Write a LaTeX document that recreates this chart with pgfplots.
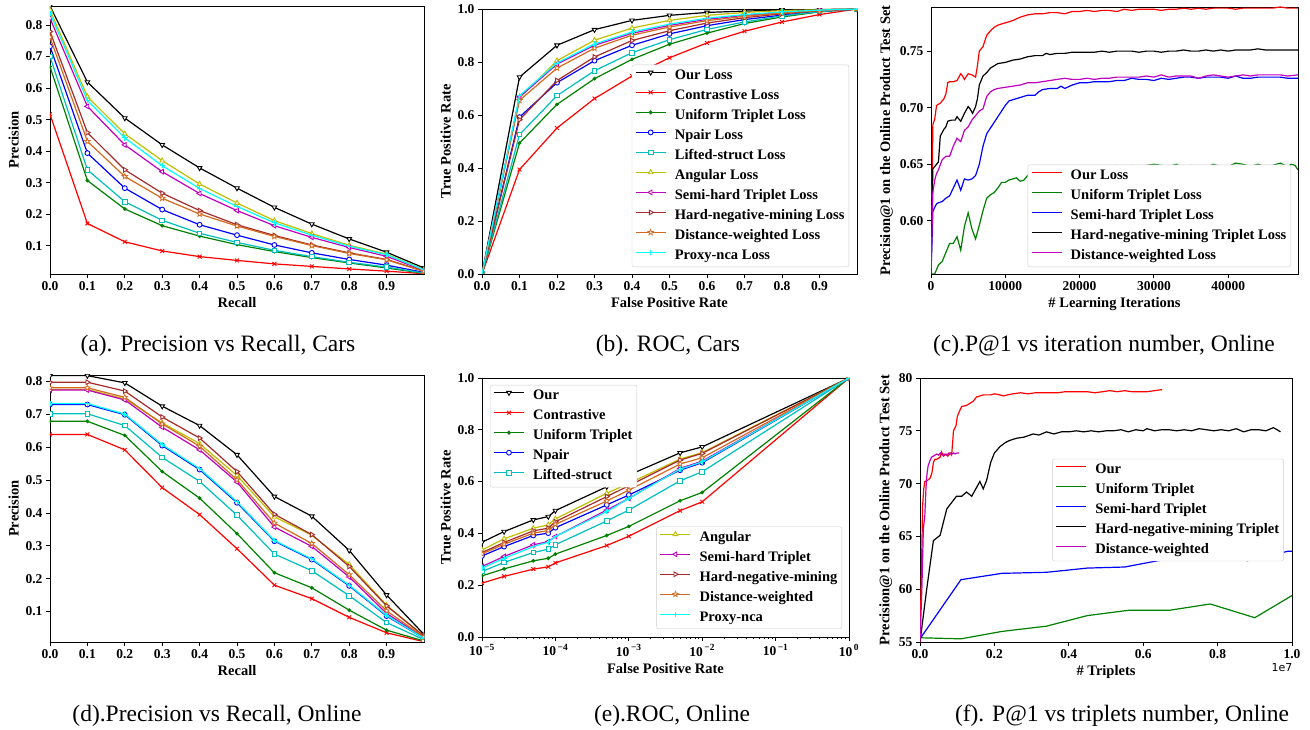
\documentclass[border=0pt]{standalone}
\usepackage{pgfplots}
\pgfplotsset{compat=1.18}
\usepackage{pgfplotstable}
\usepackage{fontspec}
\setmainfont{Liberation Serif}
\newfontfamily\dvs{DejaVu Sans}
\newcommand\fTick{\fontsize{13.5}{15}\selectfont\bfseries}
\newcommand\fLab{\fontsize{14.5}{16}\selectfont\bfseries}
\newcommand\fLeg{\fontsize{14.5}{16}\selectfont\bfseries}
\newcommand\fCap{\fontsize{23.5}{27}\selectfont}

\definecolor{cGreen}{HTML}{008000}
\definecolor{cC}{HTML}{00BFBF}
\definecolor{cY}{HTML}{BFBF00}
\definecolor{cM}{HTML}{BF00BF}
\definecolor{cBrown}{HTML}{A52A2A}
\definecolor{cChoc}{HTML}{D2691E}
\definecolor{cCyan}{HTML}{00FFFF}

% matplotlib-like filled star
\pgfdeclareplotmark{fivestar}{%
  \pgfpathmoveto{\pgfpointpolar{90}{1.2\pgfplotmarksize}}%
  \pgfpathlineto{\pgfpointpolar{126}{0.5\pgfplotmarksize}}%
  \pgfpathlineto{\pgfpointpolar{162}{1.2\pgfplotmarksize}}%
  \pgfpathlineto{\pgfpointpolar{198}{0.5\pgfplotmarksize}}%
  \pgfpathlineto{\pgfpointpolar{234}{1.2\pgfplotmarksize}}%
  \pgfpathlineto{\pgfpointpolar{270}{0.5\pgfplotmarksize}}%
  \pgfpathlineto{\pgfpointpolar{306}{1.2\pgfplotmarksize}}%
  \pgfpathlineto{\pgfpointpolar{342}{0.5\pgfplotmarksize}}%
  \pgfpathlineto{\pgfpointpolar{18}{1.2\pgfplotmarksize}}%
  \pgfpathlineto{\pgfpointpolar{54}{0.5\pgfplotmarksize}}%
  \pgfpathclose\pgfusepathqfillstroke}

\pgfplotsset{
  mpl/.style={
    scale only axis, clip marker paths=true,
    tick align=outside, tick pos=left,
    major tick length=4pt, minor tick length=2.2pt,
    every tick/.style={black, line width=0.8pt},
    axis line style={line width=0.9pt},
    tick label style={font=\fTick},
    label style={font=\fLab},
    /pgf/number format/assume math mode=true,
    legend cell align=left,
    legend style={font=\fLeg, draw=black!20, rounded corners=2pt, fill=white,
      inner sep=3pt, row sep=4pt,
      nodes={inner sep=1.5pt, text height=10pt, text depth=3pt},
      /tikz/every odd column/.append style={column sep=7pt}},
    legend image code/.code={\draw[sharp corners,line width=1.4pt,mark size=2.7pt,
      mark repeat=2,mark phase=2,##1]
      plot coordinates {(0pt,3.5pt) (15pt,3.5pt) (30pt,3.5pt)};},
    every axis plot/.append style={line width=1.2pt, mark size=2.7pt},
  },
  onedec/.style={/pgf/number format/fixed, /pgf/number format/fixed zerofill,
    /pgf/number format/precision=1},
  sOur/.style={black, mark=triangle*, mark options={solid, line width=0.9pt, rotate=180, fill=white}},
  sCon/.style={red, mark=x, mark options={solid, line width=0.9pt}},
  sUni/.style={cGreen, mark=*, mark options={solid, scale=0.45}},
  sNpa/.style={blue, mark=*, mark options={solid, line width=0.9pt, fill=white, scale=0.9}},
  sLif/.style={cC, mark=square*, mark options={solid, line width=0.9pt, fill=white, scale=0.85}},
  sAng/.style={cY, mark=triangle*, mark options={solid, line width=0.9pt, fill=white}},
  sSem/.style={cM, mark=triangle*, mark options={solid, line width=0.9pt, rotate=90, fill=white}},
  sHar/.style={cBrown, mark=triangle*, mark options={solid, line width=0.9pt, rotate=-90, fill=white}},
  sDis/.style={cChoc, mark=fivestar, mark options={solid, line width=0.7pt, fill=white, scale=0.9}},
  sPro/.style={cCyan, mark=+, mark options={solid, line width=0.9pt}},
}

% Precision vs Recall, Cars
\pgfplotstableread{
x   our   con   uni   npa   lif   ang   sem   har   dis   pro
0.0 0.860 0.517 0.668 0.732 0.700 0.847 0.821 0.779 0.761 0.837
0.1 0.619 0.171 0.307 0.394 0.341 0.573 0.542 0.459 0.431 0.561
0.2 0.505 0.113 0.217 0.283 0.240 0.455 0.420 0.341 0.320 0.442
0.3 0.420 0.084 0.164 0.215 0.181 0.370 0.335 0.267 0.251 0.354
0.4 0.347 0.066 0.131 0.167 0.140 0.296 0.266 0.212 0.201 0.282
0.5 0.283 0.054 0.104 0.134 0.111 0.236 0.212 0.167 0.163 0.225
0.6 0.222 0.043 0.082 0.103 0.086 0.180 0.164 0.133 0.130 0.173
0.7 0.169 0.035 0.063 0.078 0.066 0.139 0.127 0.103 0.101 0.134
0.8 0.122 0.027 0.046 0.057 0.048 0.102 0.095 0.078 0.076 0.099
0.9 0.080 0.020 0.030 0.039 0.033 0.074 0.067 0.057 0.056 0.072
1.0 0.030 0.012 0.013 0.016 0.014 0.025 0.022 0.020 0.019 0.024
}\tabA

% ROC, Cars
\pgfplotstableread{
x   our   con   uni   npa   lif   ang   sem   har   dis   pro
0.0 0     0     0     0     0     0     0     0     0     0
0.1 0.743 0.394 0.494 0.592 0.526 0.664 0.668 0.582 0.655 0.673
0.2 0.863 0.551 0.640 0.722 0.673 0.805 0.792 0.730 0.777 0.796
0.3 0.922 0.662 0.737 0.805 0.767 0.882 0.863 0.819 0.852 0.868
0.4 0.957 0.747 0.810 0.863 0.835 0.928 0.908 0.881 0.901 0.913
0.5 0.976 0.816 0.867 0.906 0.884 0.957 0.938 0.918 0.932 0.943
0.6 0.987 0.872 0.909 0.937 0.923 0.976 0.961 0.947 0.956 0.965
0.7 0.992 0.916 0.945 0.960 0.951 0.987 0.976 0.967 0.972 0.979
0.8 0.996 0.951 0.970 0.977 0.974 0.994 0.987 0.982 0.985 0.989
0.9 0.998 0.979 0.989 0.991 0.990 0.997 0.995 0.993 0.994 0.996
1.0 1     1     1     1     1     1     1     1     1     1
}\tabB

% Precision vs Recall, Online
\pgfplotstableread{
x   our   con   uni   npa   lif   ang   sem   har   dis   pro
0.0 0.818 0.639 0.679 0.730 0.702 0.776 0.774 0.798 0.781 0.733
0.1 0.818 0.639 0.679 0.730 0.702 0.776 0.774 0.798 0.781 0.733
0.2 0.796 0.592 0.636 0.699 0.666 0.747 0.744 0.771 0.752 0.701
0.3 0.725 0.477 0.526 0.605 0.569 0.674 0.661 0.692 0.671 0.608
0.4 0.666 0.395 0.445 0.532 0.496 0.611 0.592 0.628 0.603 0.535
0.5 0.577 0.291 0.337 0.431 0.393 0.514 0.494 0.526 0.501 0.434
0.6 0.450 0.180 0.218 0.314 0.275 0.388 0.357 0.396 0.369 0.316
0.7 0.390 0.139 0.172 0.258 0.224 0.332 0.298 0.334 0.307 0.260
0.8 0.286 0.082 0.104 0.178 0.148 0.243 0.205 0.237 0.212 0.180
0.9 0.150 0.035 0.043 0.086 0.066 0.119 0.094 0.117 0.102 0.088
1.0 0.030 0.008 0.010 0.018 0.014 0.024 0.020 0.025 0.022 0.018
}\tabD

% ROC, Online (log FPR)
\pgfplotstableread{
x    our   con   uni   npa   lif   ang   sem   har   dis   pro
1e-5 0.366 0.208 0.236 0.313 0.253 0.336 0.272 0.326 0.321 0.266
2e-5 0.407 0.234 0.263 0.349 0.288 0.379 0.311 0.365 0.358 0.304
5e-5 0.452 0.262 0.294 0.392 0.326 0.420 0.356 0.410 0.401 0.349
8e-5 0.465 0.271 0.304 0.401 0.339 0.433 0.368 0.420 0.411 0.366
1e-4 0.488 0.286 0.320 0.422 0.356 0.456 0.388 0.445 0.435 0.388
5e-4 0.580 0.353 0.392 0.510 0.448 0.555 0.490 0.542 0.525 0.484
1e-3 0.625 0.389 0.427 0.548 0.490 0.593 0.535 0.584 0.567 0.535
5e-3 0.711 0.488 0.526 0.644 0.603 0.687 0.651 0.683 0.668 0.648
1e-2 0.734 0.522 0.558 0.673 0.638 0.712 0.679 0.709 0.692 0.676
1    1     1     1     1     1     1     1     1     1     1
}\tabE

\begin{document}
\begin{tikzpicture}
\path[use as bounding box] (0pt,0pt) rectangle (1310pt,730pt);

% ---------- (a)
\begin{axis}[mpl, at={(50pt,456pt)}, anchor=south west, width=374pt, height=268pt,
  xmin=0, xmax=1, ymin=0.011, ymax=0.86, onedec,
  xtick={0,0.1,0.2,0.3,0.4,0.5,0.6,0.7,0.8,0.9},
  ytick={0.1,0.2,0.3,0.4,0.5,0.6,0.7,0.8},
  xlabel={Recall}, ylabel={Precision}]
\addplot[sOur] table[x=x,y=our]{\tabA};
\addplot[sCon] table[x=x,y=con]{\tabA};
\addplot[sUni] table[x=x,y=uni]{\tabA};
\addplot[sNpa] table[x=x,y=npa]{\tabA};
\addplot[sLif] table[x=x,y=lif]{\tabA};
\addplot[sAng] table[x=x,y=ang]{\tabA};
\addplot[sSem] table[x=x,y=sem]{\tabA};
\addplot[sHar] table[x=x,y=har]{\tabA};
\addplot[sDis] table[x=x,y=dis]{\tabA};
\addplot[sPro] table[x=x,y=pro]{\tabA};
\end{axis}

% ---------- (b)
\begin{axis}[mpl, at={(482pt,456pt)}, anchor=south west, width=375pt, height=265pt,
  xmin=0, xmax=1, ymin=0, ymax=1, onedec,
  xtick={0,0.1,0.2,0.3,0.4,0.5,0.6,0.7,0.8,0.9},
  ytick={0,0.2,0.4,0.6,0.8,1.0},
  xlabel={False Positive Rate}, ylabel={True Positive Rate},
  legend style={at={(0.979,0.026)}, anchor=south east}]
\addplot[sOur] table[x=x,y=our]{\tabB}; \addlegendentry{Our Loss}
\addplot[sCon] table[x=x,y=con]{\tabB}; \addlegendentry{Contrastive Loss}
\addplot[sUni] table[x=x,y=uni]{\tabB}; \addlegendentry{Uniform Triplet Loss}
\addplot[sNpa] table[x=x,y=npa]{\tabB}; \addlegendentry{Npair Loss}
\addplot[sLif] table[x=x,y=lif]{\tabB}; \addlegendentry{Lifted-struct Loss}
\addplot[sAng] table[x=x,y=ang]{\tabB}; \addlegendentry{Angular Loss}
\addplot[sSem] table[x=x,y=sem]{\tabB}; \addlegendentry{Semi-hard Triplet Loss}
\addplot[sHar] table[x=x,y=har]{\tabB}; \addlegendentry{Hard-negative-mining Loss}
\addplot[sDis] table[x=x,y=dis]{\tabB}; \addlegendentry{Distance-weighted Loss}
\addplot[sPro] table[x=x,y=pro]{\tabB}; \addlegendentry{Proxy-nca Loss}
\end{axis}

% ---------- (c)
\begin{axis}[mpl, at={(931pt,456pt)}, anchor=south west, width=367pt, height=267pt,
  xmin=0, xmax=49400, ymin=0.553, ymax=0.789,
  scaled x ticks=false, /pgf/number format/1000 sep={},
  xtick={0,10000,20000,30000,40000},
  ytick={0.60,0.65,0.70,0.75},
  yticklabel style={/pgf/number format/fixed, /pgf/number format/fixed zerofill, /pgf/number format/precision=2},
  xlabel={\# Learning Iterations}, ylabel={Precision@1 on the Online Product Test Set},
  legend style={at={(0.981,0.026)}, anchor=south east}]
\addplot[red] coordinates {(0,0.553) (250,0.685) (500,0.690) (750,0.702) (1000,0.703) (1250,0.704) (1500,0.706) (1750,0.708) (2000,0.712) (2250,0.722) (2500,0.723) (3000,0.723) (3500,0.724) (4000,0.730) (4250,0.728) (4500,0.725) (5000,0.730) (5500,0.729) (6000,0.727) (6250,0.737) (6500,0.750) (7000,0.754) (7500,0.764) (8000,0.768) (8500,0.771) (9000,0.773) (10000,0.775) (11000,0.777) (12000,0.780) (13000,0.782) (14000,0.783) (15000,0.783) (16000,0.784) (17000,0.784) (18000,0.783) (19000,0.785) (20000,0.785) (21000,0.786) (22000,0.785) (23000,0.786) (24000,0.786) (25000,0.785) (26000,0.787) (27000,0.786) (28000,0.787) (29000,0.787) (30000,0.787) (31000,0.786) (32000,0.787) (33000,0.787) (34000,0.788) (35000,0.787) (36000,0.788) (37000,0.787) (38000,0.788) (39000,0.788) (40000,0.788) (41000,0.787) (42000,0.788) (43000,0.788) (44000,0.788) (45000,0.788) (46000,0.788) (47000,0.789) (48000,0.788) (49000,0.788) (49400,0.788)};
\addlegendentry{Our Loss}
\addplot[cGreen] coordinates {(0,0.553) (500,0.553) (750,0.557) (1000,0.561) (1500,0.564) (2000,0.572) (2500,0.580) (3000,0.580) (3500,0.586) (4000,0.574) (4500,0.595) (5000,0.607) (5500,0.593) (6000,0.584) (6500,0.596) (7000,0.609) (7500,0.620) (8000,0.623) (8500,0.625) (9000,0.629) (9500,0.634) (10000,0.634) (10500,0.636) (11000,0.637) (11500,0.638) (12000,0.635) (12500,0.636) (13000,0.640) (13500,0.643) (14000,0.643) (15000,0.643) (16000,0.644) (17000,0.645) (18000,0.645) (19000,0.646) (20000,0.646) (21000,0.647) (22000,0.646) (23000,0.648) (24000,0.647) (25000,0.649) (26000,0.647) (27000,0.649) (28000,0.648) (29000,0.649) (30000,0.650) (31000,0.649) (32000,0.648) (33000,0.650) (34000,0.647) (35000,0.649) (36000,0.648) (37000,0.647) (38000,0.650) (39000,0.648) (40000,0.648) (41000,0.651) (42000,0.650) (43000,0.648) (44000,0.650) (45000,0.648) (46000,0.649) (47000,0.651) (48000,0.648) (48500,0.650) (49000,0.649) (49400,0.645)};
\addlegendentry{Uniform Triplet Loss}
\addplot[blue] coordinates {(0,0.553) (250,0.608) (500,0.612) (750,0.615) (1000,0.616) (1500,0.617) (2000,0.620) (2500,0.622) (3000,0.629) (3500,0.636) (4000,0.627) (4500,0.637) (5000,0.636) (5500,0.637) (6000,0.640) (6500,0.650) (7000,0.666) (7500,0.677) (8000,0.682) (8500,0.687) (9000,0.692) (9500,0.697) (10000,0.702) (10500,0.706) (11000,0.707) (12000,0.709) (13000,0.711) (14000,0.711) (14500,0.714) (15000,0.716) (16000,0.717) (17000,0.717) (17500,0.719) (18000,0.717) (19000,0.720) (20000,0.722) (21000,0.722) (22000,0.723) (23000,0.723) (24000,0.723) (25000,0.724) (26000,0.724) (27000,0.726) (28000,0.725) (29000,0.725) (30000,0.724) (31000,0.726) (32000,0.725) (33000,0.726) (34000,0.727) (35000,0.727) (36000,0.726) (37000,0.727) (38000,0.727) (39000,0.727) (40000,0.726) (41000,0.728) (42000,0.726) (43000,0.726) (44000,0.727) (45000,0.727) (46000,0.727) (47000,0.727) (48000,0.726) (49400,0.726)};
\addlegendentry{Semi-hard Triplet Loss}
\addplot[black] coordinates {(0,0.553) (250,0.646) (500,0.648) (750,0.650) (1000,0.652) (1250,0.675) (1500,0.678) (1750,0.681) (2000,0.683) (2250,0.688) (2750,0.689) (3250,0.689) (3500,0.692) (4000,0.688) (4500,0.695) (5000,0.701) (5250,0.699) (5600,0.695) (6000,0.701) (6250,0.708) (6500,0.720) (7000,0.728) (7500,0.731) (8000,0.735) (8500,0.737) (9000,0.739) (10000,0.740) (11000,0.742) (12000,0.743) (13000,0.745) (14000,0.746) (15000,0.746) (15500,0.748) (16000,0.747) (17000,0.748) (18000,0.748) (19000,0.749) (20000,0.749) (21000,0.749) (22000,0.749) (23000,0.750) (24000,0.749) (25000,0.750) (26000,0.750) (27000,0.750) (28000,0.749) (29000,0.750) (30000,0.750) (31000,0.749) (32000,0.750) (33000,0.750) (34000,0.751) (35000,0.750) (36000,0.750) (37000,0.751) (38000,0.750) (39000,0.751) (40000,0.750) (41000,0.751) (42000,0.751) (43000,0.751) (44000,0.752) (45000,0.751) (46000,0.751) (47000,0.751) (48000,0.751) (49400,0.751)};
\addlegendentry{Hard-negative-mining Triplet Loss}
\addplot[cM] coordinates {(0,0.553) (250,0.625) (500,0.636) (750,0.642) (1000,0.645) (1500,0.654) (2000,0.657) (2500,0.657) (3000,0.666) (3500,0.673) (4000,0.670) (4500,0.680) (5000,0.683) (5500,0.689) (6000,0.693) (6500,0.697) (7000,0.699) (7500,0.710) (8000,0.714) (8500,0.716) (9000,0.717) (10000,0.718) (11000,0.719) (12000,0.720) (13000,0.722) (14000,0.722) (15000,0.723) (16000,0.724) (17000,0.725) (18000,0.726) (19000,0.725) (20000,0.725) (21000,0.726) (22000,0.725) (23000,0.726) (24000,0.726) (25000,0.727) (26000,0.727) (27000,0.727) (28000,0.727) (29000,0.728) (30000,0.727) (31000,0.729) (32000,0.727) (33000,0.728) (34000,0.728) (35000,0.728) (36000,0.726) (37000,0.728) (38000,0.729) (39000,0.728) (40000,0.727) (41000,0.728) (42000,0.729) (43000,0.728) (44000,0.729) (45000,0.729) (46000,0.729) (47000,0.729) (48000,0.728) (49400,0.729)};
\addlegendentry{Distance-weighted Loss}
\end{axis}

% ---------- (d)
\begin{axis}[mpl, at={(50pt,88pt)}, anchor=south west, width=374pt, height=267pt,
  xmin=0, xmax=1, ymin=0.007, ymax=0.82, onedec,
  xtick={0,0.1,0.2,0.3,0.4,0.5,0.6,0.7,0.8,0.9},
  ytick={0.1,0.2,0.3,0.4,0.5,0.6,0.7,0.8},
  xlabel={Recall}, ylabel={Precision}]
\addplot[sOur] table[x=x,y=our]{\tabD};
\addplot[sCon] table[x=x,y=con]{\tabD};
\addplot[sUni] table[x=x,y=uni]{\tabD};
\addplot[sNpa] table[x=x,y=npa]{\tabD};
\addplot[sLif] table[x=x,y=lif]{\tabD};
\addplot[sAng] table[x=x,y=ang]{\tabD};
\addplot[sSem] table[x=x,y=sem]{\tabD};
\addplot[sHar] table[x=x,y=har]{\tabD};
\addplot[sDis] table[x=x,y=dis]{\tabD};
\addplot[sPro] table[x=x,y=pro]{\tabD};
\end{axis}

% ---------- (e)
\begin{axis}[mpl, at={(482pt,93pt)}, anchor=south west, width=367pt, height=259pt,
  xmode=log, xmin=1e-5, xmax=1, ymin=0, ymax=1,
  xtick={1e-5,1e-4,1e-3,1e-2,1e-1,1},
  xticklabels={10\textsuperscript{\,−5},10\textsuperscript{\,−4},10\textsuperscript{\,−3},10\textsuperscript{\,−2},10\textsuperscript{\,−1},10\textsuperscript{\,0}},
  ytick={0,0.2,0.4,0.6,0.8,1.0},
  yticklabel style={/pgf/number format/fixed, /pgf/number format/fixed zerofill, /pgf/number format/precision=1},
  xlabel={False Positive Rate}, ylabel={True Positive Rate},
  legend style={at={(0.022,0.973)}, anchor=north west}]
\addplot[sOur] table[x=x,y=our]{\tabE}; \addlegendentry{Our}
\addplot[sCon] table[x=x,y=con]{\tabE}; \addlegendentry{Contrastive}
\addplot[sUni] table[x=x,y=uni]{\tabE}; \addlegendentry{Uniform Triplet}
\addplot[sNpa] table[x=x,y=npa]{\tabE}; \addlegendentry{Npair}
\addplot[sLif] table[x=x,y=lif]{\tabE}; \addlegendentry{Lifted-struct}
\addplot[sAng, forget plot] table[x=x,y=ang]{\tabE};
\addplot[sSem, forget plot] table[x=x,y=sem]{\tabE};
\addplot[sHar, forget plot] table[x=x,y=har]{\tabE};
\addplot[sDis, forget plot] table[x=x,y=dis]{\tabE};
\addplot[sPro, forget plot] table[x=x,y=pro]{\tabE};
\end{axis}
\begin{axis}[mpl, hide axis, at={(482pt,93pt)}, anchor=south west, width=367pt, height=259pt,
  xmin=0, xmax=1, ymin=0, ymax=1,
  legend style={at={(0.981,0.031)}, anchor=south east}]
\addlegendimage{sAng} \addlegendentry{Angular}
\addlegendimage{sSem} \addlegendentry{Semi-hard Triplet}
\addlegendimage{sHar} \addlegendentry{Hard-negative-mining}
\addlegendimage{sDis} \addlegendentry{Distance-weighted}
\addlegendimage{sPro} \addlegendentry{Proxy-nca}
\end{axis}

% ---------- (f)
\begin{axis}[mpl, at={(920pt,88pt)}, anchor=south west, width=372pt, height=264pt,
  xmin=0, xmax=1, ymin=55, ymax=80,
  xtick={0,0.2,0.4,0.6,0.8,1.0}, ytick={55,60,65,70,75,80},
  xticklabel style={/pgf/number format/fixed, /pgf/number format/fixed zerofill, /pgf/number format/precision=1},
  xlabel={\# Triplets}, ylabel={Precision@1 on the Online Product Test Set},
  legend style={at={(0.978,0.5)}, anchor=east}]
\addplot[red] coordinates {(0,55.0) (0.004,62) (0.007,67.9) (0.010,69.5) (0.013,70.2) (0.020,70.3) (0.027,70.5) (0.032,71.0) (0.036,72.0) (0.040,72.3) (0.045,72.3) (0.054,72.5) (0.058,73.0) (0.063,72.6) (0.070,72.8) (0.075,72.6) (0.081,72.9) (0.085,72.7) (0.088,74.0) (0.090,75.0) (0.097,75.5) (0.100,76.3) (0.103,76.6) (0.108,77.0) (0.112,77.3) (0.125,77.4) (0.134,77.6) (0.143,77.8) (0.152,78.2) (0.161,78.3) (0.170,78.4) (0.180,78.4) (0.190,78.4) (0.200,78.5) (0.215,78.4) (0.224,78.3) (0.235,78.4) (0.250,78.5) (0.270,78.6) (0.290,78.5) (0.310,78.6) (0.330,78.6) (0.350,78.6) (0.370,78.6) (0.390,78.7) (0.410,78.7) (0.430,78.7) (0.450,78.7) (0.470,78.6) (0.490,78.7) (0.510,78.8) (0.530,78.7) (0.550,78.8) (0.570,78.7) (0.590,78.7) (0.610,78.7) (0.630,78.8) (0.651,78.9)};
\addlegendentry{Our}
\addplot[cGreen] coordinates {(0,55.4) (0.11,55.3) (0.22,56.0) (0.34,56.5) (0.45,57.5) (0.56,58.0) (0.67,58.0) (0.78,58.6) (0.90,57.3) (1.0,59.4)};
\addlegendentry{Uniform Triplet}
\addplot[blue] coordinates {(0,55.3) (0.11,60.9) (0.22,61.5) (0.34,61.6) (0.45,62.0) (0.55,62.1) (0.67,62.9) (0.78,63.5) (0.88,62.7) (0.99,63.6) (1.0,63.6)};
\addlegendentry{Semi-hard Triplet}
\addplot[black] coordinates {(0,55.0) (0.018,60) (0.036,64.6) (0.054,65.1) (0.072,67.6) (0.085,68.2) (0.098,68.8) (0.112,68.8) (0.125,69.2) (0.139,68.8) (0.161,70.2) (0.170,69.5) (0.179,70.3) (0.190,72.0) (0.200,72.9) (0.215,73.5) (0.230,73.9) (0.242,74.1) (0.260,74.3) (0.280,74.4) (0.304,74.7) (0.320,74.6) (0.340,74.9) (0.360,74.7) (0.380,74.9) (0.400,74.9) (0.420,75.0) (0.440,74.9) (0.460,75.0) (0.480,74.9) (0.500,75.0) (0.520,75.0) (0.540,75.1) (0.560,74.9) (0.580,75.1) (0.600,75.0) (0.610,75.2) (0.630,75.0) (0.650,75.1) (0.670,75.1) (0.690,75.0) (0.710,75.1) (0.730,75.0) (0.750,75.2) (0.770,75.1) (0.790,75.0) (0.810,75.1) (0.830,75.0) (0.850,75.2) (0.870,74.9) (0.890,75.1) (0.910,75.1) (0.930,75.0) (0.950,75.3) (0.960,75.1) (0.969,74.9)};
\addlegendentry{Hard-negative-mining Triplet}
\addplot[cM] coordinates {(0,55.0) (0.005,60) (0.009,65.7) (0.013,67.0) (0.016,69.5) (0.019,71.0) (0.022,71.7) (0.027,72.2) (0.031,72.5) (0.036,72.6) (0.045,72.8) (0.050,72.7) (0.055,72.9) (0.060,72.7) (0.065,72.8) (0.072,72.7) (0.078,72.9) (0.085,72.8) (0.090,72.9) (0.095,72.8) (0.100,72.9) (0.105,72.9)};
\addlegendentry{Distance-weighted}
\end{axis}
\node[font=\dvs\fontsize{11}{13}\selectfont] at (1282pt,62pt) {1e7};

% ---------- captions
\node[anchor=base, font=\fCap] at (218pt,378pt) {(a). Precision vs Recall, Cars};
\node[anchor=base, font=\fCap] at (668pt,378pt) {(b). ROC, Cars};
\node[anchor=base, font=\fCap] at (1104pt,378pt) {(c).P@1 vs iteration number, Online};
\node[anchor=base, font=\fCap] at (217pt,8pt) {(d).Precision vs Recall, Online};
\node[anchor=base, font=\fCap] at (672pt,8pt) {(e).ROC, Online};
\node[anchor=base, font=\fCap] at (1122pt,8pt) {(f). P@1 vs triplets number, Online};
\end{tikzpicture}
\end{document}
